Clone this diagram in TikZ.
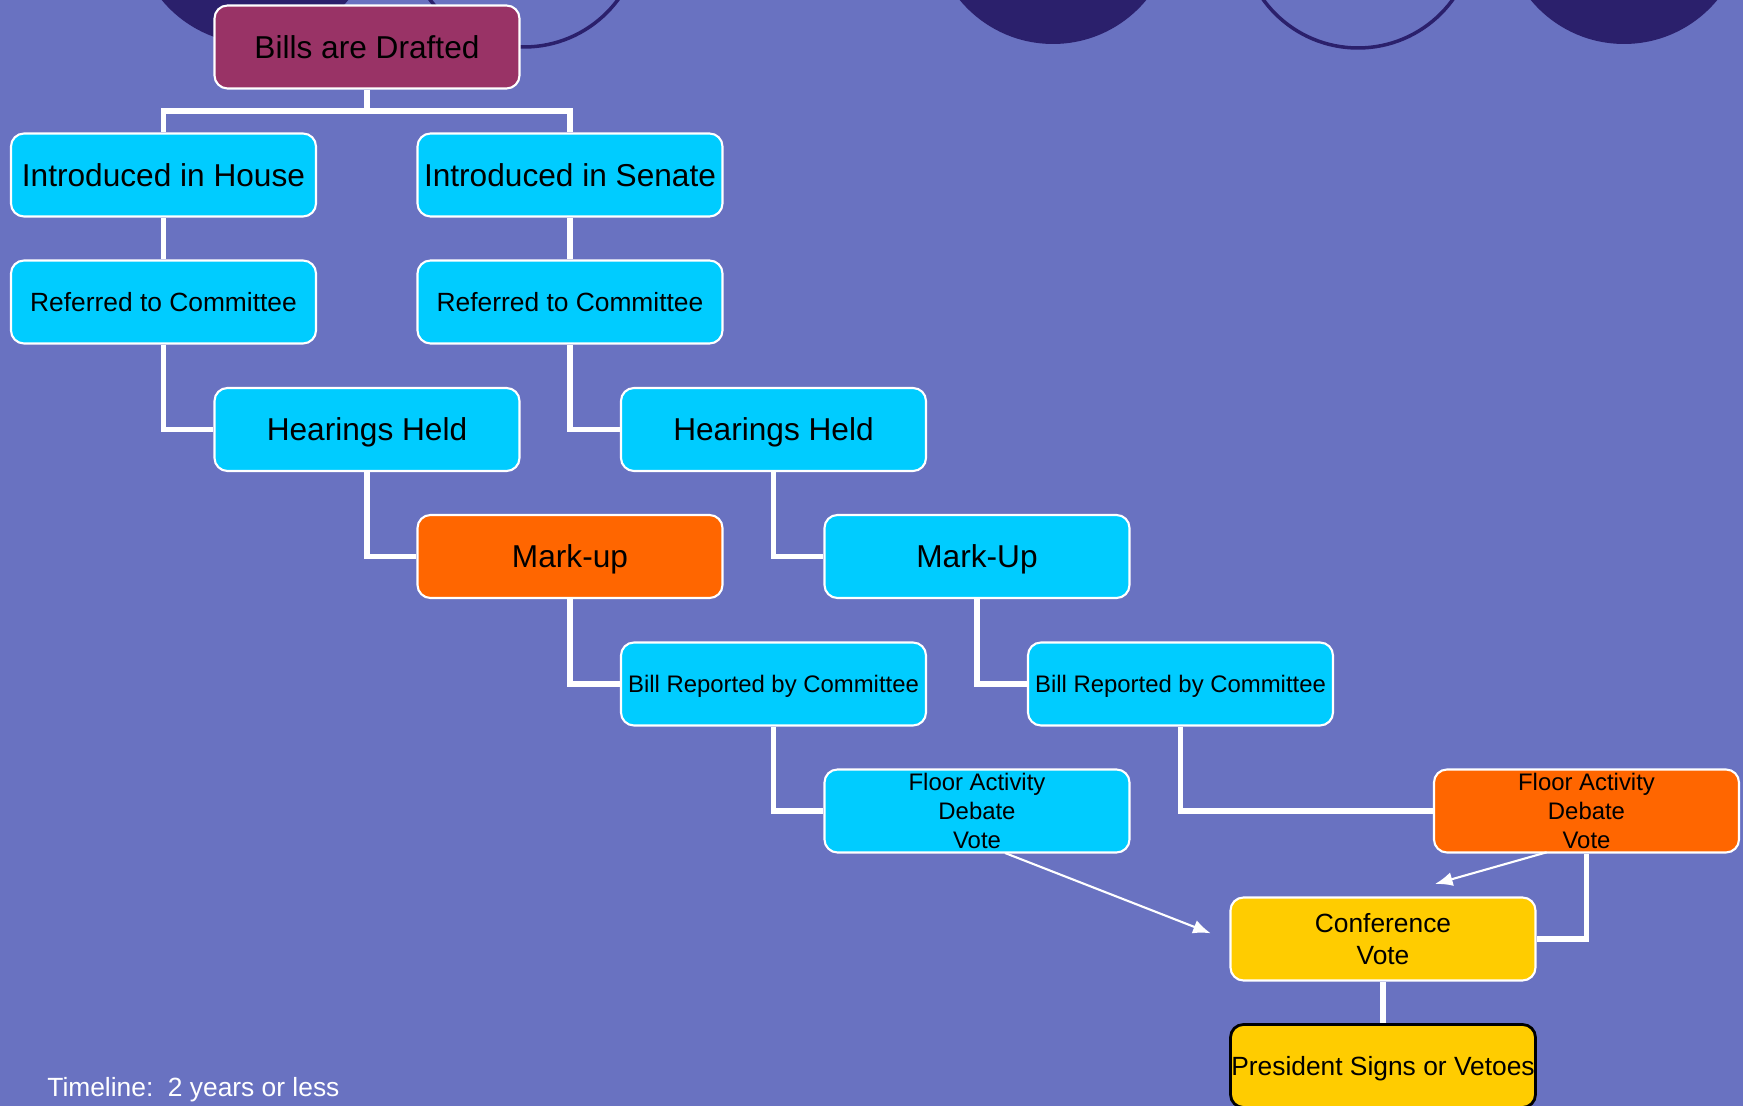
\documentclass[tikz,border=0pt]{standalone}
\usepackage{fontspec}
\setmainfont{Liberation Sans}
\usetikzlibrary{arrows.meta}

\definecolor{slate}{RGB}{105,114,193}
\definecolor{night}{RGB}{43,32,108}
\definecolor{sky}{RGB}{0,204,255}
\definecolor{flame}{RGB}{255,102,0}
\definecolor{wine}{RGB}{153,51,102}
\definecolor{gold}{RGB}{255,204,0}

\begin{document}
\begin{tikzpicture}[
  stage/.style={rectangle, rounded corners=0.13cm, draw=white, line width=0.6pt, fill=sky,
    minimum width=3.05cm, minimum height=0.83cm, inner sep=0pt, align=center, text=black},
  big/.style={font=\fontsize{9}{10.8}\selectfont, text height=8pt, text depth=1.5pt},
  mid/.style={font=\fontsize{7.5}{9.1}\selectfont},
  small/.style={font=\fontsize{6.8}{8.2}\selectfont},
  midline/.style={mid, text height=6.7pt, text depth=1.25pt},
  smallline/.style={small, text height=6pt, text depth=1.1pt},
  link/.style={draw=white, line width=1.6pt},
  flow/.style={draw=white, line width=0.6pt, -{Latex[length=5pt,width=4pt]}}
]

\useasboundingbox (0,0) rectangle (17.43,11.06);
\clip (0,0) rectangle (17.43,11.06);
\fill [slate] (0,0) rectangle (17.43,11.06);

\fill [night] (2.55,11.83) circle (1.21);
\draw [night, line width=1pt] (5.24,11.76) circle (1.17);
\fill [night] (10.53,11.83) circle (1.21);
\draw [night, line width=1pt] (13.58,11.75) circle (1.17);
\fill [night] (16.24,11.83) circle (1.21);

\node [stage, big, fill=wine] (bills) at (3.67,10.59) {Bills are Drafted};

\node [stage, big] (introH) at (1.635,9.31) {Introduced in House};
\node [stage, big] (introS) at (5.70,9.31) {Introduced in Senate};

\node [stage, midline] (refH) at (1.635,8.04) {Referred to Committee};
\node [stage, midline] (refS) at (5.70,8.04) {Referred to Committee};

\node [stage, big] (hearH) at (3.67,6.765) {Hearings Held};
\node [stage, big] (hearS) at (7.735,6.765) {Hearings Held};

\node [stage, big, fill=flame] (markH) at (5.70,5.495) {Mark-up};
\node [stage, big] (markS) at (9.77,5.495) {Mark-Up};

\node [stage, smallline] (repH) at (7.735,4.22) {Bill Reported by Committee};
\node [stage, smallline] (repS) at (11.805,4.22) {Bill Reported by Committee};

\node [stage, small, text depth=-1.2pt] (floorH) at (9.77,2.95) {Floor Activity\\Debate\\Vote};
\node [stage, small, text depth=-1.2pt, fill=flame] (floorS) at (15.865,2.95) {Floor Activity\\Debate\\Vote};

\node [stage, mid, text depth=-0.6pt, fill=gold] (conf) at (13.83,1.67) {Conference\\Vote};
\node [stage, midline, fill=gold, draw=black, line width=0.8pt] (pres) at (13.83,0.40) {President Signs or Vetoes};

\node [mid, text=white, anchor=base west, inner sep=0pt] (timeline) at (0.467,0.093) {Timeline:\ \ 2 years or less};

\coordinate (split) at (3.67,9.95);
\draw [link] (bills.south) -- (split);
\draw [link] (introH.north) |- (split) -| (introS.north);

\draw [link] (introH.south) -- (refH.north);
\draw [link] (introS.south) -- (refS.north);

\draw [link] (refH.south) |- (hearH.west);
\draw [link] (refS.south) |- (hearS.west);
\draw [link] (hearH.south) |- (markH.west);
\draw [link] (hearS.south) |- (markS.west);
\draw [link] (markH.south) |- (repH.west);
\draw [link] (markS.south) |- (repS.west);
\draw [link] (repH.south) |- (floorH.west);
\draw [link] (repS.south) |- (floorS.west);
\draw [link] (floorS.south) |- (conf.east);
\draw [link] (conf.south) -- (pres.north);

\coordinate (fhOut) at (10.05,2.53);
\coordinate (fhIn) at (12.107,1.727);
\coordinate (fsOut) at (15.467,2.537);
\coordinate (fsIn) at (14.35,2.22);
\draw [flow] (fhOut) -- (fhIn);
\draw [flow] (fsOut) -- (fsIn);

\end{tikzpicture}
\end{document}
